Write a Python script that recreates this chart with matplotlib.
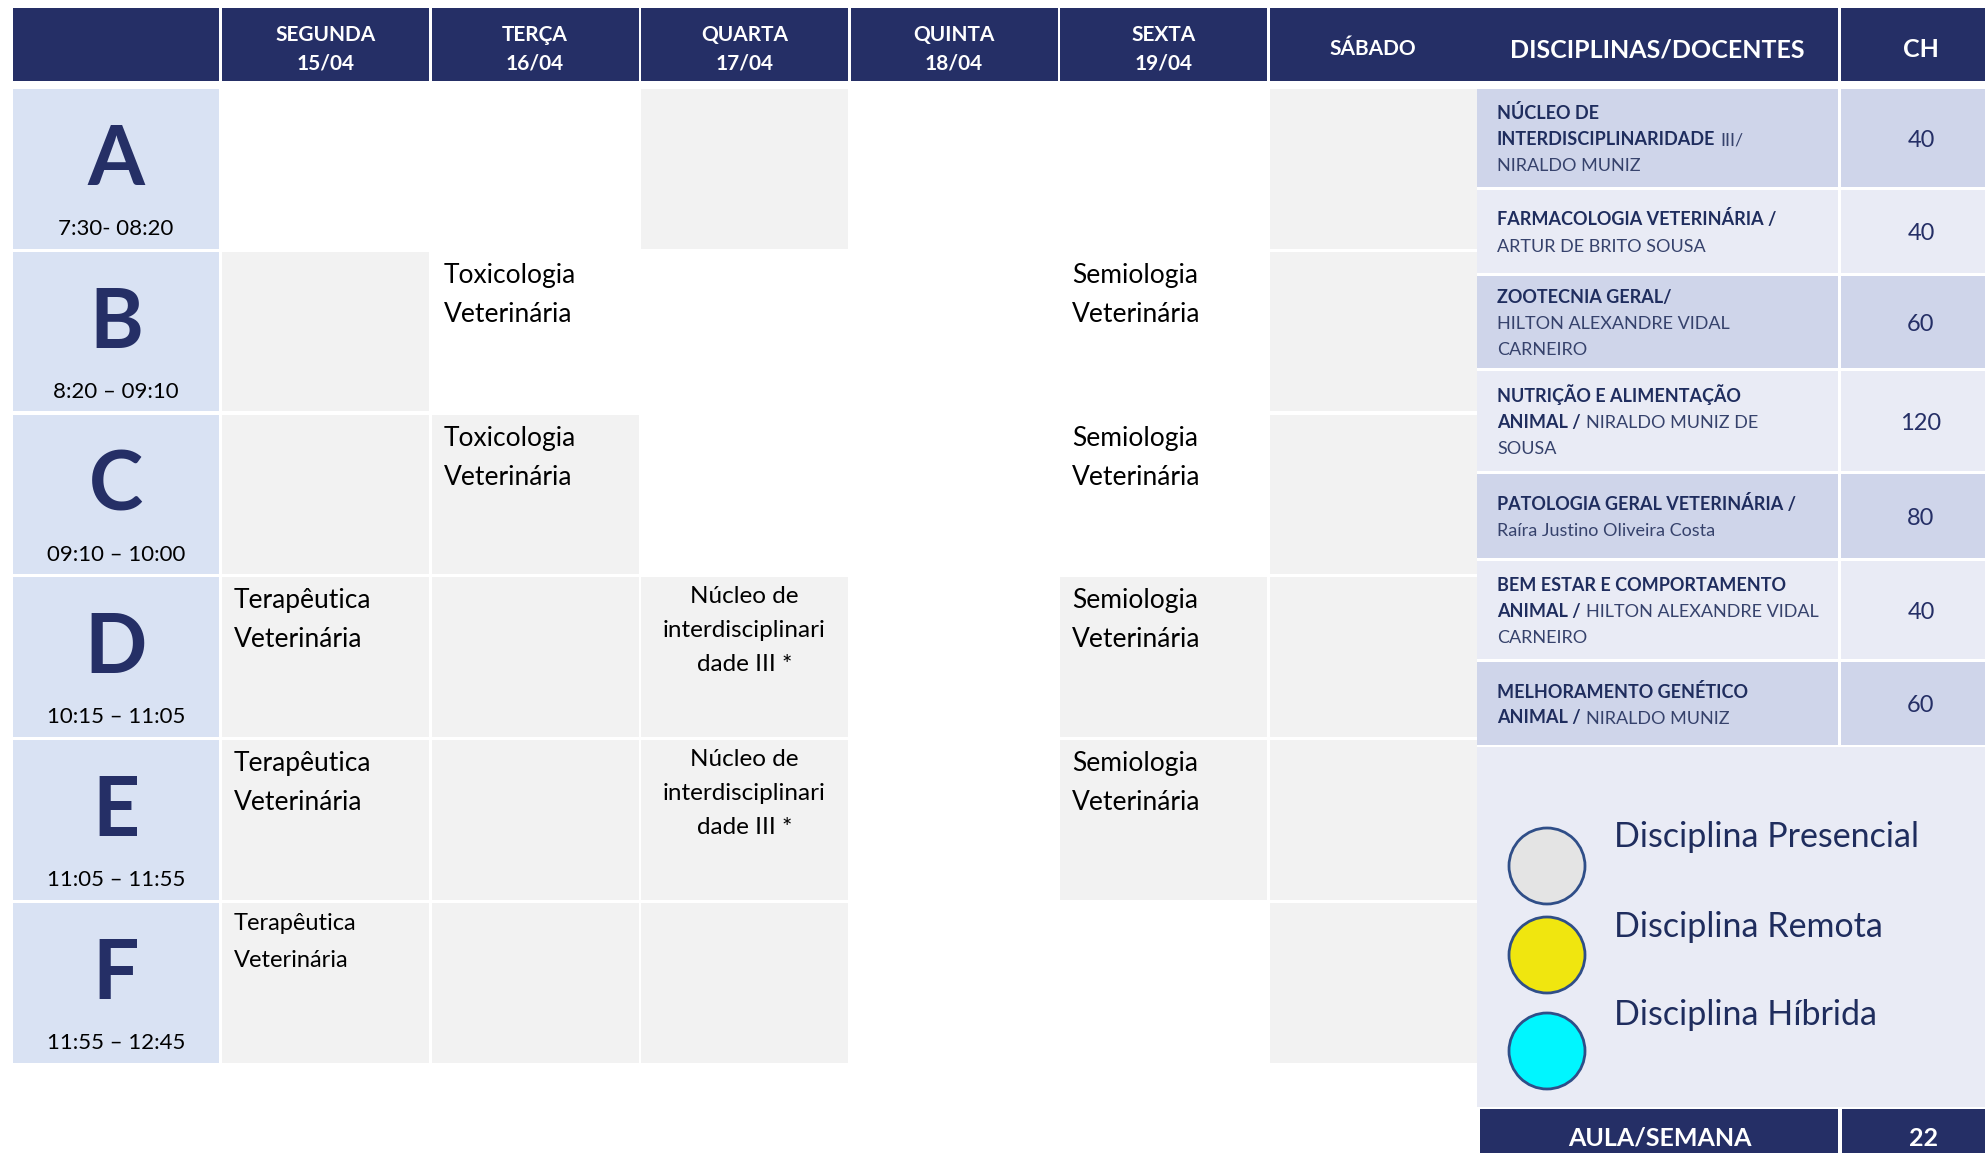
import matplotlib
matplotlib.use("Agg")
import matplotlib.pyplot as plt
from matplotlib.patches import Rectangle, Circle

plt.rcParams['font.family'] = ['Lato', 'DejaVu Sans']

# ---- dados do quadro de horarios ----
dias = ["SEGUNDA\n15/04", "TERÇA\n16/04", "QUARTA\n17/04",
        "QUINTA\n18/04", "SEXTA\n19/04", "SÁBADO"]
letras = ["A", "B", "C", "D", "E", "F"]
horarios = ["7:30- 08:20", "8:20 – 09:10", "09:10 – 10:00",
            "10:15 – 11:05", "11:05 – 11:55", "11:55 – 12:45"]

tox = "Toxicologia\nVeterinária"
sem = "Semiologia\nVeterinária"
ter = "Terapêutica\nVeterinária"
nuc = "Núcleo de\ninterdisciplinari\ndade III *"
aulas = [
    ["", "", "", "", "", ""],
    ["", tox, "", "", sem, ""],
    ["", tox, "", "", sem, ""],
    [ter, "", nuc, "", sem, ""],
    [ter, "", nuc, "", sem, ""],
    [ter, "", "", "", "", ""],
]
# 1 = celula cinza (presencial), 0 = branca
cinza = [
    [0, 0, 1, 0, 0, 1],
    [1, 0, 0, 0, 0, 1],
    [1, 1, 0, 0, 0, 1],
    [1, 1, 1, 0, 1, 1],
    [1, 1, 1, 0, 1, 1],
    [1, 1, 1, 0, 0, 1],
]

# disciplinas: linhas de (parte em negrito, parte normal)
disciplinas = [
    [("NÚCLEO DE", ""), ("INTERDISCIPLINARIDADE", "III/"), ("", "NIRALDO MUNIZ")],
    [("FARMACOLOGIA VETERINÁRIA /", ""), ("", "ARTUR DE BRITO SOUSA")],
    [("ZOOTECNIA GERAL/", ""), ("", "HILTON ALEXANDRE VIDAL"), ("", "CARNEIRO")],
    [("NUTRIÇÃO E ALIMENTAÇÃO", ""), ("ANIMAL /", "NIRALDO MUNIZ DE"), ("", "SOUSA")],
    [("PATOLOGIA GERAL VETERINÁRIA /", ""), ("", "Raíra Justino Oliveira Costa")],
    [("BEM ESTAR E COMPORTAMENTO", ""), ("ANIMAL /", "HILTON ALEXANDRE VIDAL"), ("", "CARNEIRO")],
    [("MELHORAMENTO GENÉTICO", ""), ("ANIMAL /", "NIRALDO MUNIZ")],
]
carga_horaria = [40, 40, 60, 120, 80, 40, 60]
legenda = ["Disciplina Presencial", "Disciplina Remota", "Disciplina Híbrida"]
aulas_semana = 22

# ---- estilo ----
NAVY = "#252f66"
LABEL_BG = "#d9e2f3"
GREY = "#f2f2f2"
ROW_DARK = "#cfd5ea"
ROW_LIGHT = "#e9ebf5"
TXT_BOLD = "#1f2d5e"
TXT_REG = "#36426c"
leg_cores = ["#e4e4e4", "#f0e60f", "#00f6ff"]

W, H = 1985, 1153
fig = plt.figure(figsize=(W / 100, H / 100), dpi=100)
ax = fig.add_axes([0, 0, 1, 1])
ax.set_xlim(0, W)
ax.set_ylim(H, 0)
ax.axis("off")


def box(x0, y0, x1, y1, color):
    ax.add_patch(Rectangle((x0, y0), x1 - x0, y1 - y0, facecolor=color,
                           edgecolor="none"))


def lines_at(x, base, step, txt, **kw):
    for k, ln in enumerate(txt.split("\n")):
        ax.text(x, base + k * step, ln, va="baseline", **kw)


# header do quadro
box(13, 8, 219, 81, NAVY)
col_x = [222 + i * 209.5 for i in range(len(dias))]
for i, d in enumerate(dias):
    x0 = col_x[i]
    box(x0, 8, x0 + 207, 81, NAVY)
    n = len(d.split("\n"))
    lines_at(x0 + 103.5, 55 - (n - 1) * 14, 28, d, ha="center",
             color="white", fontsize=15, fontweight="bold")

# linhas A-F
row_y = [89 + r * 162.8 for r in range(len(letras))]
for r, letra in enumerate(letras):
    y0 = row_y[r]
    y1 = y0 + 159.5
    box(13, y0, 219, y1, LABEL_BG)
    ax.text(116, y0 + 96, letra, ha="center", va="baseline", fontsize=59,
            fontweight="bold", color=NAVY)
    ax.text(116, y0 + 146, horarios[r], ha="center", va="baseline",
            fontsize=16, color="black")
    for c in range(len(dias)):
        x0 = col_x[c]
        if cinza[r][c]:
            box(x0, y0, x0 + 207, y1, GREY)
        txt = aulas[r][c]
        if not txt:
            continue
        if txt == nuc:
            lines_at(x0 + 103.5, y0 + 26, 34, txt, ha="center",
                     fontsize=17.5, color="black")
        elif r == 5:
            lines_at(x0 + 12, y0 + 27, 37, txt, ha="left",
                     fontsize=17, color="black")
        else:
            lines_at(x0 + 12, y0 + 31, 39, txt, ha="left",
                     fontsize=19, color="black")

# painel direito
XD0, XD1, XC0 = 1477, 1838, 1841
box(XD0, 8, XD1, 81, NAVY)
box(XC0, 8, W, 81, NAVY)
ax.text(1657, 57, "DISCIPLINAS/DOCENTES", ha="center", va="baseline",
        fontsize=18, fontweight="bold", color="white")
ax.text(1921, 57, "CH", ha="center", va="baseline",
        fontsize=18, fontweight="bold", color="white")

row_h = [98, 83, 92, 100, 84, 98, 83]
renderer = fig.canvas.get_renderer()
y0 = 89
for i, linhas in enumerate(disciplinas):
    y1 = y0 + row_h[i]
    bg = ROW_DARK if i % 2 == 0 else ROW_LIGHT
    box(XD0, y0, XD1, y1, bg)
    box(XC0, y0, W, y1, bg)
    mid = (y0 + y1) / 2
    n = len(linhas)
    for k, (b, t) in enumerate(linhas):
        base = mid + 7 + (k - (n - 1) / 2) * 26
        x = 1497
        if b:
            tb = ax.text(x, base, b, va="baseline", ha="left", fontsize=13,
                         fontweight="bold", color=TXT_BOLD)
            ext = tb.get_window_extent(renderer)
            x = x + ext.width + 5
        if t:
            ax.text(x, base, t, va="baseline", ha="left", fontsize=13,
                    color=TXT_REG)
    ax.text(1921, mid + 9, str(carga_horaria[i]), ha="center", va="baseline",
            fontsize=17, color=NAVY)
    y0 = y1 + 3

# legenda
box(XD0, 747, W, 1107, ROW_LIGHT)
circ_y = [866, 955, 1051]
txt_y = [847, 937, 1025]
for k, lab in enumerate(legenda):
    ax.add_patch(Circle((1547, circ_y[k]), 38, facecolor=leg_cores[k],
                        edgecolor="#2f4e88", linewidth=2))
    ax.text(1614, txt_y[k], lab, ha="left", va="baseline", fontsize=24.5,
            color=TXT_BOLD)

# rodape
box(1480, 1109, XD1, 1200, NAVY)
box(1842, 1109, W, 1200, NAVY)
ax.text(1660, 1146, "AULA/SEMANA", ha="center", va="baseline", fontsize=18,
        fontweight="bold", color="white")
ax.text(1923, 1146, str(aulas_semana), ha="center", va="baseline", fontsize=18,
        fontweight="bold", color="white")

fig.savefig("out.png", dpi=100, facecolor="white")
